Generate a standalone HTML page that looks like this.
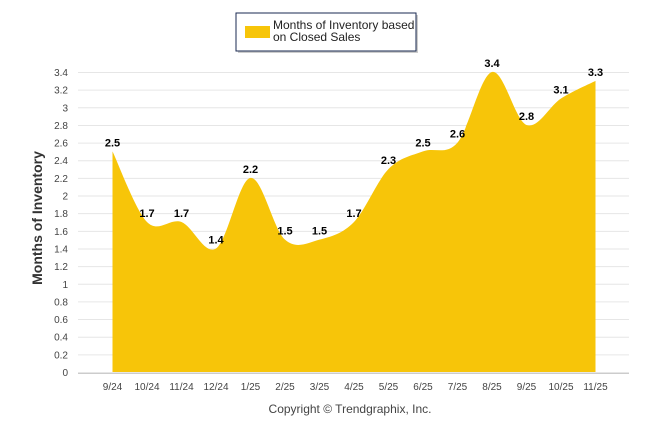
<!DOCTYPE html>
<html><head><meta charset="utf-8"><style>
body{margin:0;background:#fff;}
svg{display:block;font-family:"Liberation Sans",sans-serif;}
</style></head><body>
<svg id="chart" width="646" height="434">
<g id="grid"></g><g id="area"></g><g id="labels"></g><g id="xaxis"></g><g id="yaxis"></g>
<text x="42" y="218" transform="rotate(-90 42 218)" text-anchor="middle" font-size="14" font-weight="bold" fill="#333">Months of Inventory</text>
<text x="350" y="413" text-anchor="middle" font-size="12" fill="#444">Copyright © Trendgraphix, Inc.</text>
<g>
<rect x="238" y="15" width="180" height="38" fill="#999" opacity="0.5"/>
<rect x="236" y="13" width="180" height="38" fill="#fff" stroke="#1a2a50" stroke-width="1"/>
<rect x="245" y="26" width="25" height="12" fill="#f7c509"/>
<text x="273" y="29" font-size="12" fill="#222">Months of Inventory based</text>
<text x="273" y="41" font-size="12" fill="#222">on Closed Sales</text>
</g>
</svg>
<script>
const categories=["9/24","10/24","11/24","12/24","1/25","2/25","3/25","4/25","5/25","6/25","7/25","8/25","9/25","10/25","11/25"];
const values=[2.5,1.7,1.7,1.4,2.2,1.5,1.5,1.7,2.3,2.5,2.6,3.4,2.8,3.1,3.3];
const yTicks=[0,0.2,0.4,0.6,0.8,1,1.2,1.4,1.6,1.8,2,2.2,2.4,2.6,2.8,3,3.2,3.4];
const NS="http://www.w3.org/2000/svg";
const y0=372,y1=72,yMax=3.4,x0=112.5,dx=34.5;
const X=i=>x0+i*dx, Y=v=>y0-(v/yMax)*(y0-y1);
function mk(t,a,p){const e=document.createElementNS(NS,t);for(const k in a)e.setAttribute(k,a[k]);p.appendChild(e);return e;}
const grid=document.getElementById('grid'),ya=document.getElementById('yaxis'),xa=document.getElementById('xaxis');
yTicks.forEach(v=>{
 const l=mk('line',{x1:78,x2:629,y1:Y(v)+0.5,y2:Y(v)+0.5,stroke:'#e6e6e6'},grid);
 
 
 const t=mk('text',{x:68,y:Y(v)+4,'text-anchor':'end','font-size':10,fill:'#444'},ya);
 t.textContent=String(v);
 
 
});
mk('line',{x1:78,x2:629,y1:y0+1.5,y2:y0+1.5,stroke:'#ccc'},xa);
categories.forEach((c,i)=>{
 const t=mk('text',{x:X(i),y:390,'text-anchor':'middle','font-size':10,fill:'#444'},xa);
 t.textContent=c;
 
 
});
const pts=values.map((v,i)=>[X(i),Y(v)]);
let d=`M${pts[0][0]},${y0} L${pts[0][0]},${pts[0][1]}`;
for(let i=0;i<pts.length-1;i++){
 const p0=pts[Math.max(0,i-1)],p1=pts[i],p2=pts[i+1],p3=pts[Math.min(pts.length-1,i+2)];
 const c1=[p1[0]+(p2[0]-p0[0])/6,p1[1]+(p2[1]-p0[1])/6],c2=[p2[0]-(p3[0]-p1[0])/6,p2[1]-(p3[1]-p1[1])/6];
 d+=` C${c1[0]},${c1[1]} ${c2[0]},${c2[1]} ${p2[0]},${p2[1]}`;
}
d+=` L${pts[pts.length-1][0]},${y0} Z`;
const a=mk('path',{d:d,fill:'#f7c509'},document.getElementById('area'));


const lg=document.getElementById('labels');
values.forEach((v,i)=>{
 const t=mk('text',{x:X(i),y:Y(v)-5,'text-anchor':'middle','font-size':11,'font-weight':'bold',fill:'#000'},lg);
 t.textContent=v.toFixed(1);
 
 
});
</script>
</body></html>
